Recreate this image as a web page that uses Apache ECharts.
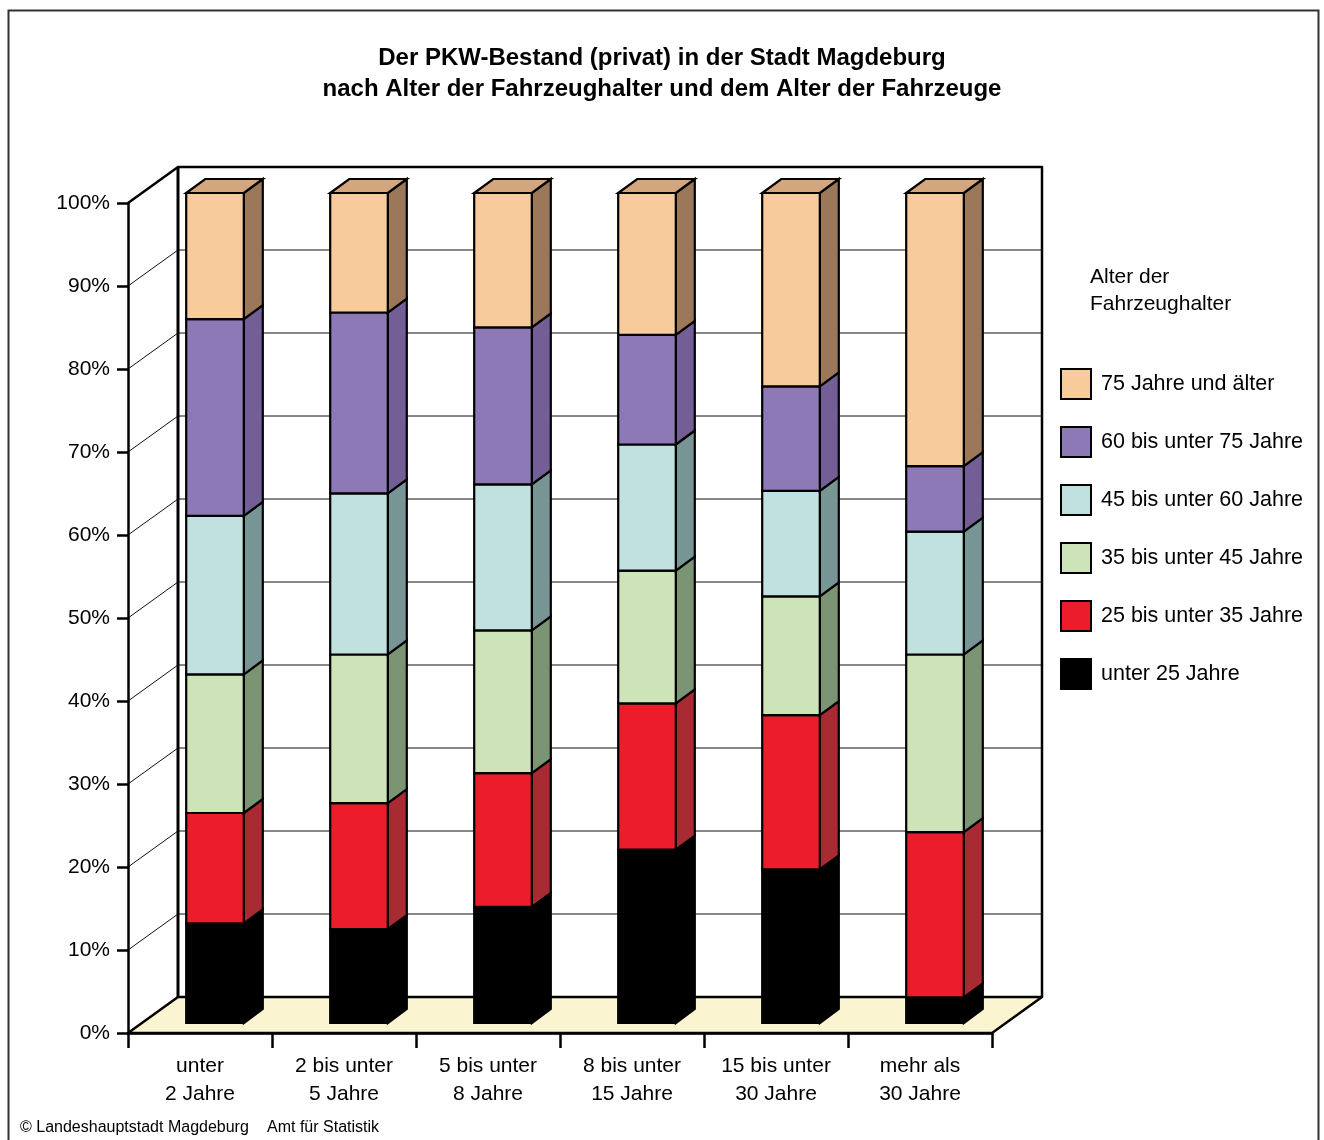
<!DOCTYPE html>
<html>
<head>
<meta charset="utf-8">
<script src="https://cdn.jsdelivr.net/npm/echarts@6/dist/echarts.min.js"></script>
<style>
html,body{margin:0;padding:0;background:#fff;}
#chart{width:1324px;height:1140px;}
</style>
</head>
<body>
<div id="chart"></div>
<script>
// ---- data ----
const categories = ['unter\n2 Jahre', '2 bis unter\n5 Jahre', '5 bis unter\n8 Jahre', '8 bis unter\n15 Jahre', '15 bis unter\n30 Jahre', 'mehr als\n30 Jahre'];
const seriesNames = ['unter 25 Jahre', '25 bis unter 35 Jahre', '35 bis unter 45 Jahre', '45 bis unter 60 Jahre', '60 bis unter 75 Jahre', '75 Jahre und älter'];
const under25 = [12.0, 11.3, 14.0, 20.9, 18.5, 3.1];
const age25to35 = [13.3, 15.2, 16.1, 17.6, 18.6, 19.9];
const age35to45 = [16.7, 17.9, 17.2, 16.0, 14.3, 21.4];
const age45to60 = [19.1, 19.4, 17.6, 15.2, 12.7, 14.8];
const age60to75 = [23.7, 21.8, 18.9, 13.2, 12.6, 7.9];
const age75plus = [15.2, 14.4, 16.2, 17.1, 23.3, 32.9];
const yTicks = [0, 10, 20, 30, 40, 50, 60, 70, 80, 90, 100];

// ---- styling ----
const valueArrays = [under25, age25to35, age35to45, age45to60, age60to75, age75plus];
const frontColors = ['#000000', '#ed1c2a', '#cde4b9', '#c0e1e0', '#8c79b5', '#f8cb9c'];
const sideColors  = ['#000000', '#a82a33', '#7b9473', '#789595', '#735f96', '#9c785a'];
const topColor = '#d4a67b';
const FONT = 'Liberation Sans, Arial, sans-serif';
const WALL_DX = 50, WALL_DY = -36;   // back wall depth offset (px)
const BAR_DX = 15, BAR_DY = -10;     // bar front face offset
const BAR_DEPTH_X = 19, BAR_DEPTH_Y = -14;

const chart = echarts.init(document.getElementById('chart'), null, {renderer: 'canvas'});

function wallsRender(params, api) {
  const cs = params.coordSys;
  const L = cs.x, R = cs.x + cs.width;
  const yAt = v => api.coord([0, v])[1];
  const y0 = yAt(0), y100 = yAt(100);
  const children = [];
  children.push({
    type: 'polygon',
    shape: {points: [[L, y0], [L + WALL_DX, y0 + WALL_DY], [R + WALL_DX, y0 + WALL_DY], [R, y0]]},
    style: {fill: '#faf5d0', stroke: '#000', lineWidth: 2.5, lineJoin: 'round'}
  });
  yTicks.forEach(t => {
    if (t === 0 || t === 100) return;
    const y = yAt(t);
    children.push({type: 'line', shape: {x1: L + WALL_DX, y1: y + WALL_DY, x2: R + WALL_DX, y2: y + WALL_DY}, style: {stroke: '#111', lineWidth: 1}});
    children.push({type: 'line', shape: {x1: L, y1: y, x2: L + WALL_DX, y2: y + WALL_DY}, style: {stroke: '#111', lineWidth: 1}});
  });
  children.push({type: 'polyline', shape: {points: [[L, y100], [L + WALL_DX, y100 + WALL_DY], [R + WALL_DX, y100 + WALL_DY], [R + WALL_DX, y0 + WALL_DY]]}, style: {stroke: '#000', lineWidth: 2.5, fill: null, lineJoin: 'round'}});
  children.push({type: 'line', shape: {x1: L + WALL_DX, y1: y100 + WALL_DY, x2: L + WALL_DX, y2: y0 + WALL_DY}, style: {stroke: '#000', lineWidth: 3}});
  return {type: 'group', children: children};
}

function makeBarRender(s) {
  return function (params, api) {
    const i = api.value(0), v = api.value(1), base = api.value(2);
    const pb = api.coord([i, base]);
    const pt = api.coord([i, base + v]);
    const w = api.size([1, 0])[0] * 0.4;
    const x0 = pb[0] - w / 2 + BAR_DX, x1 = x0 + w;
    const yb = pb[1] + BAR_DY, yt = pt[1] + BAR_DY;
    const st = {stroke: '#000', lineWidth: 2.2, lineJoin: 'miter'};
    const children = [
      {type: 'polygon', shape: {points: [[x1, yb], [x1 + BAR_DEPTH_X, yb + BAR_DEPTH_Y], [x1 + BAR_DEPTH_X, yt + BAR_DEPTH_Y], [x1, yt]]},
       style: Object.assign({fill: sideColors[s]}, st)},
      {type: 'rect', shape: {x: x0, y: yt, width: w, height: yb - yt}, style: Object.assign({fill: frontColors[s]}, st)}
    ];
    if (s === valueArrays.length - 1) {
      children.push({type: 'polygon', shape: {points: [[x0, yt], [x1, yt], [x1 + BAR_DEPTH_X, yt + BAR_DEPTH_Y], [x0 + BAR_DEPTH_X, yt + BAR_DEPTH_Y]]},
        style: Object.assign({fill: topColor}, st)});
    }
    return {type: 'group', children: children};
  };
}

const series = [{
  type: 'custom', name: 'walls', coordinateSystem: 'cartesian2d', silent: true, z: 1,
  data: [[0, 0]], renderItem: wallsRender, encode: {x: 0, y: 1}
}];
valueArrays.forEach((arr, s) => {
  series.push({
    type: 'custom', name: seriesNames[s], coordinateSystem: 'cartesian2d', z: 3 + s,
    itemStyle: {color: frontColors[s], borderColor: '#000', borderWidth: 2},
    data: arr.map((v, i) => {
      let base = 0;
      for (let k = 0; k < s; k++) base += valueArrays[k][i];
      return [i, v, base];
    }),
    encode: {x: 0, y: 1},
    renderItem: makeBarRender(s)
  });
});

chart.setOption({
  animation: false,
  backgroundColor: '#fff',
  textStyle: {fontFamily: FONT},
  title: {
    text: 'Der PKW-Bestand (privat) in der Stadt Magdeburg\nnach Alter der Fahrzeughalter und dem Alter der Fahrzeuge',
    left: 'center', top: 38,
    textStyle: {fontFamily: FONT, fontSize: 24, fontWeight: 'bold', color: '#000', lineHeight: 31}
  },
  legend: {
    data: seriesNames.slice().reverse(),
    orient: 'vertical', left: 1055, top: 363,
    itemWidth: 30, itemHeight: 30, itemGap: 26,
    icon: 'rect', selectedMode: false,
    itemStyle: {borderColor: '#000', borderWidth: 2},
    textStyle: {fontFamily: FONT, fontSize: 21.5, color: '#000', padding: [0, 0, 0, 5]}
  },
  grid: {left: 128, right: 332, top: 203, bottom: 107, containLabel: false},
  xAxis: {
    type: 'category', data: categories, boundaryGap: true, z: 10,
    axisLine: {lineStyle: {color: '#000', width: 2.5}},
    axisTick: {show: true, length: 15, lineStyle: {color: '#000', width: 2.5}},
    axisLabel: {fontFamily: FONT, fontSize: 21, color: '#000', lineHeight: 28, margin: 19, interval: 0}
  },
  yAxis: {
    type: 'value', min: 0, max: 100, interval: 10, z: 10,
    axisLine: {show: true, lineStyle: {color: '#000', width: 2.5}},
    axisTick: {show: true, length: 11, lineStyle: {color: '#000', width: 2.5}},
    axisLabel: {formatter: '{value}%', fontFamily: FONT, fontSize: 21, color: '#000', margin: 18},
    splitLine: {show: false}
  },
  graphic: [
    {type: 'rect', left: 6, top: 8, shape: {width: 1310, height: 1145}, style: {fill: null, stroke: '#333', lineWidth: 2}, silent: true, z: -1},
    {type: 'text', left: 1090, top: 264, style: {text: 'Alter der\nFahrzeughalter', fontFamily: FONT, fontSize: 21, lineHeight: 27, fill: '#000'}},
    {type: 'text', left: 20, top: 1120, style: {text: '© Landeshauptstadt Magdeburg', fontFamily: FONT, fontSize: 16, fill: '#000'}},
    {type: 'text', left: 267, top: 1120, style: {text: 'Amt für Statistik', fontFamily: FONT, fontSize: 16, fill: '#000'}}
  ],
  series: series
});
</script>
</body>
</html>
